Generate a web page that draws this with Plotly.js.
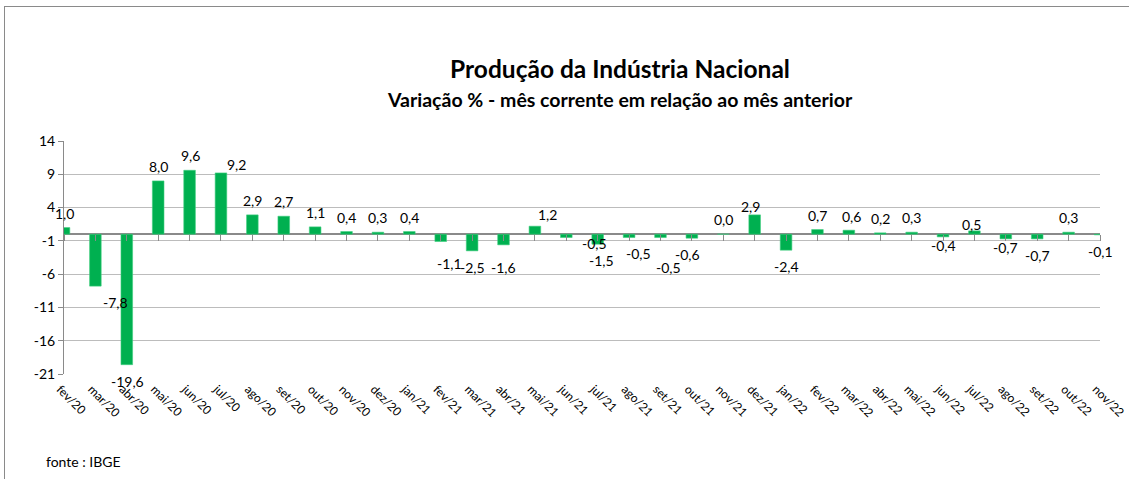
<!DOCTYPE html>
<html>
<head>
<meta charset="utf-8">
<script src="https://cdn.plot.ly/plotly-3.0.1.min.js"></script>
<style>
  html, body { margin: 0; padding: 0; background: #ffffff; overflow: hidden; }
  #chart { position: absolute; left: 0; top: 0; width: 1129px; height: 479px; }
  #frame { position: absolute; left: 4px; top: 6px; width: 2000px; height: 1000px;
           border-top: 1.5px solid #8a8a8a; border-left: 1.5px solid #8a8a8a; pointer-events: none; }
</style>
</head>
<body>
<div id="chart"></div>
<div id="frame"></div>
<script>
// ---- data ----
const months = ["fev/20","mar/20","abr/20","mai/20","jun/20","jul/20","ago/20","set/20","out/20","nov/20","dez/20",
  "jan/21","fev/21","mar/21","abr/21","mai/21","jun/21","jul/21","ago/21","set/21","out/21","nov/21","dez/21",
  "jan/22","fev/22","mar/22","abr/22","mai/22","jun/22","jul/22","ago/22","set/22","out/22","nov/22"];
const variation = [1.0,-7.8,-19.6,8.0,9.6,9.2,2.9,2.7,1.1,0.4,0.3,
  0.4,-1.1,-2.5,-1.6,1.2,-0.5,-1.5,-0.5,-0.5,-0.6,0.0,2.9,
  -2.4,0.7,0.6,0.2,0.3,-0.4,0.5,-0.7,-0.7,0.3,-0.1];
const yTicks = [14, 9, 4, -1, -6, -11, -16, -21];

// label nudges (pixels) to mimic hand-placed data labels
const labelNudgeX = [0,20,1,0,1,16,0,0,0,0,0, 0,9,0,0,13,28,4,9,8,-4,0,-4, 0,0,3,0,0,0,-3,0,0,0,0];
const labelNudgeY = [0,0,0,0,0,6,0,0,0,0,0, 0,5,0,6,3,-11,0,-1,13,0,0,6, 0,0,1,0,0,-8,8,-8,0,0,0];

const FONT = "Lato, 'Open Sans', sans-serif";
const GREEN = "#00B050";
const yMin = Math.min(...yTicks), yMax = Math.max(...yTicks);
const lastIdx = months.length - 1;

const fmt = v => v.toFixed(1).replace(".", ",");

const annotations = variation.map((v, i) => ({
  x: months[i], y: v, xref: "x", yref: "y",
  text: fmt(v), showarrow: false,
  font: { family: FONT, size: 14, color: "#000000" },
  xanchor: "center", yanchor: "middle",
  xshift: labelNudgeX[i],
  yshift: (v >= 0) ? 14.5 - labelNudgeY[i] : -16.5 - labelNudgeY[i]
}));

annotations.push({
  xref: "paper", yref: "paper", x: (620 - 64) / 1036, y: 1.18,
  text: "<b>Variação % - mês corrente em relação ao mês anterior</b>",
  showarrow: false, xanchor: "center", yanchor: "middle",
  font: { family: FONT, size: 19.5, color: "#000000" }
});
annotations.push({
  xref: "paper", yref: "paper", x: -0.0195, y: -0.375,
  text: "fonte : IBGE", showarrow: false, xanchor: "left", yanchor: "middle",
  font: { family: FONT, size: 14, color: "#000000" }
});

const traces = [
  {
    type: "bar", x: months, y: variation,
    marker: { color: GREEN, line: { color: "#3fcf7f", width: 0.6 } },
    hoverinfo: "x+y", showlegend: false
  },
  {
    type: "scatter", mode: "none", x: months, y: variation,
    xaxis: "x2", yaxis: "y", hoverinfo: "skip", showlegend: false
  }
];

const layout = {
  width: 1129, height: 479,
  margin: { l: 64, r: 29, t: 140.7, b: 104.7, pad: 0 },
  paper_bgcolor: "rgba(0,0,0,0)", plot_bgcolor: "rgba(0,0,0,0)",
  font: { family: FONT, size: 13.5, color: "#000000" },
  bargap: 0.63,
  title: {
    text: "<b>Produção da Indústria Nacional</b>",
    xref: "container", yref: "container",
    x: 620 / 1129, y: 1 - 69 / 479, xanchor: "center", yanchor: "middle",
    font: { family: FONT, size: 24.5, color: "#000000" }
  },
  xaxis: {
    type: "category", range: [0, lastIdx], fixedrange: true,
    showgrid: false, zeroline: false, showline: false, ticks: "",
    tickangle: 45, ticklabelstandoff: 5, ticklabelshift: -4,
    tickfont: { family: FONT, size: 12, color: "#000000" },
    automargin: false
  },
  xaxis2: {
    type: "category", overlaying: "x", anchor: "free",
    position: (0 - yMin) / (yMax - yMin),
    range: [0, lastIdx], showgrid: false, zeroline: false, showline: false,
    ticks: "outside", ticklen: 6, tickwidth: 1, tickcolor: "#8a8a8a",
    showticklabels: false, fixedrange: true
  },
  yaxis: {
    range: [yMin, yMax], tickmode: "array", tickvals: yTicks,
    ticktext: yTicks.map(String),
    showgrid: true, gridcolor: "#bcbcbc", gridwidth: 1,
    zeroline: true, zerolinecolor: "#8a8a8a", zerolinewidth: 2,
    showline: true, linecolor: "#8a8a8a", linewidth: 1,
    ticks: "outside", ticklen: 5, tickcolor: "#8a8a8a",
    tickfont: { family: FONT, size: 14, color: "#000000" },
    fixedrange: true, automargin: false
  },
  annotations: annotations,
  showlegend: false
};

Plotly.newPlot("chart", traces, layout, { displayModeBar: false, staticPlot: true });
</script>
</body>
</html>
